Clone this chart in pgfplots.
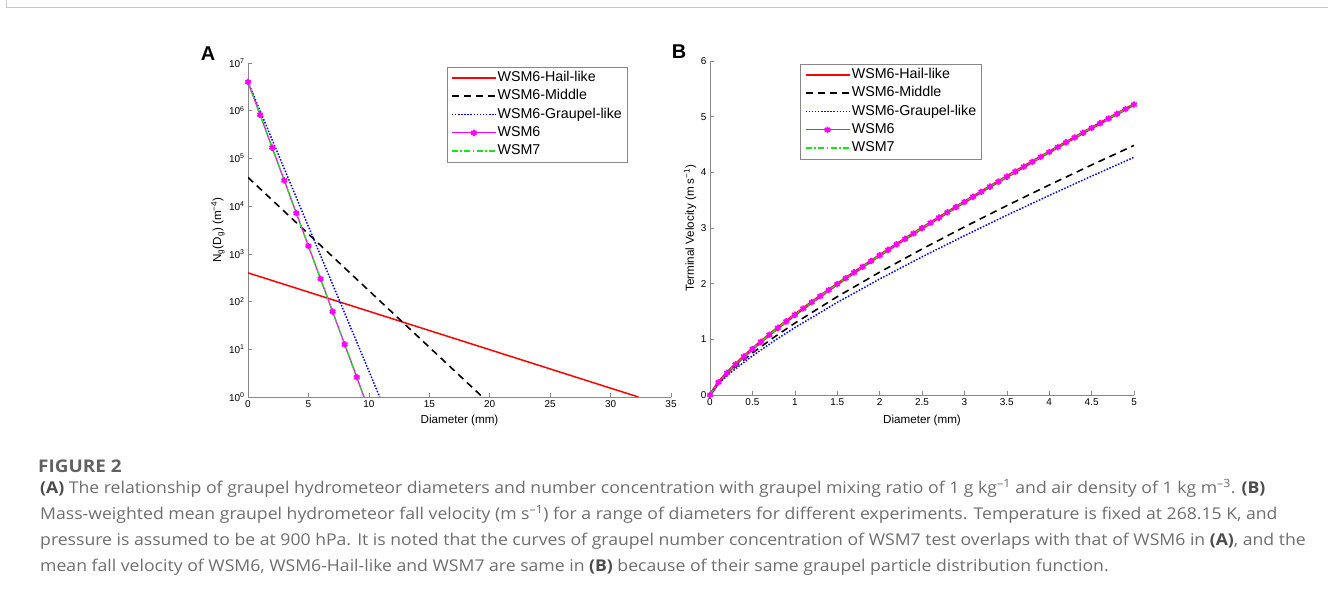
\documentclass[border=0pt]{standalone}
\usepackage{pgfplots}
\usepackage{pgfplotstable}
\pgfplotsset{compat=1.18}
\usepackage{fontspec}
\setmainfont{Liberation Sans}
\newfontfamily\capfont[FakeStretch=1.085]{Open Sans}
\definecolor{axgray}{RGB}{135,135,135}
\definecolor{mygreen}{RGB}{20,230,20}
\definecolor{mymag}{RGB}{255,0,255}
\definecolor{capgray}{RGB}{110,110,110}
\definecolor{legred}{RGB}{254,0,0}
\definecolor{legblack}{RGB}{1,1,1}
\definecolor{legblue}{RGB}{1,0,254}
\definecolor{legmag}{RGB}{254,0,254}
\definecolor{leggreen}{RGB}{20,229,20}
\definecolor{legblueb}{RGB}{2,2,253}
\definecolor{legredb}{RGB}{253,1,1}

% Panel B: WSM6 / Hail-like / WSM7 mean fall velocity (m/s)
\pgfplotstableread{
D v
0 0
0.1 0.2282
0.2 0.3974
0.3 0.5496
0.4 0.6918
0.5 0.8271
0.6 0.9569
0.7 1.0826
0.8 1.2046
0.9 1.3236
1.0 1.4400
1.1 1.5541
1.2 1.6661
1.3 1.7763
1.4 1.8848
1.5 1.9917
1.6 2.0973
1.7 2.2015
1.8 2.3045
1.9 2.4064
2.0 2.5072
2.1 2.6070
2.2 2.7058
2.3 2.8038
2.4 2.9009
2.5 2.9972
2.6 3.0927
2.7 3.1875
2.8 3.2816
2.9 3.3750
3.0 3.4678
3.1 3.5600
3.2 3.6516
3.3 3.7426
3.4 3.8331
3.5 3.9230
3.6 4.0124
3.7 4.1013
3.8 4.1897
3.9 4.2777
4.0 4.3653
4.1 4.4524
4.2 4.5390
4.3 4.6253
4.4 4.7111
4.5 4.7966
4.6 4.8817
4.7 4.9664
4.8 5.0507
4.9 5.1348
5.0 5.2184
}\vwsm

\pgfplotstableread{
D v
0 0
0.1 0.2171
0.2 0.3712
0.3 0.5080
0.5 0.7544
0.75 1.0325
1.0 1.2900
1.5 1.7656
2.0 2.2060
2.5 2.6218
3.0 3.0191
3.5 3.4017
4.0 3.7721
4.5 4.1322
5.0 4.4832
}\vmid

\pgfplotstableread{
D v
0 0
0.1 0.1992
0.2 0.3429
0.3 0.4711
0.5 0.7029
0.75 0.9658
1.0 1.2100
1.5 1.6625
2.0 2.0829
2.5 2.4807
3.0 2.8615
3.5 3.2290
4.0 3.5851
4.5 3.9317
5.0 4.2699
}\vgrau

\pgfplotsset{
 mystyle/.style={
  scale only axis,
  axis lines=left,
  axis line style={-, draw=axgray, line width=0.6bp},
  every tick/.style={draw=axgray, line width=0.6bp},
  major tick length=4bp,
  tick align=inside,
  tick label style={font=\fontsize{10}{12}\selectfont},
  /pgf/number format/assume math mode=true,
  label style={font=\fontsize{11.7}{13}\selectfont},
  legend cell align=left,
  legend style={draw=axgray, fill=white,
    font=\fontsize{14.3}{16}\selectfont,
    anchor=north west,
    nodes={inner sep=1bp, text height=10.5bp, text depth=3bp},
    row sep=2.8bp, inner xsep=4bp, inner ysep=3bp},
 },
}

\begin{document}
\begin{tikzpicture}[x=1bp,y=1bp]
\useasboundingbox (0,0) rectangle (1328,595);
\draw[black!22, line width=1.5bp] (6.5,595) -- (6.5,587.5) -- (1328,587.5);

% Panel A
\begin{axis}[mystyle,
  at={(248bp,198bp)}, anchor=south west,
  width=423bp, height=334bp,
  xmin=0, xmax=35, ymode=log, ymin=1, ymax=1e7,
  xtick={0,5,10,15,20,25,30,35},
  ytick={1,10,100,1000,10000,100000,1000000,10000000},
  yticklabels={10\textsuperscript{0},10\textsuperscript{1},10\textsuperscript{2},10\textsuperscript{3},10\textsuperscript{4},10\textsuperscript{5},10\textsuperscript{6},10\textsuperscript{7}},
  yminorticks=false,
  xlabel={Diameter (mm)},
  ylabel={N\textsubscript{g}(D\textsubscript{g}) (m\textsuperscript{−4})},
  xlabel style={at={(axis description cs:0.5,-0.069)}, anchor=center},
  ylabel style={at={(axis description cs:-0.071,0.5)}, anchor=center},
  legend style={at={(rel axis cs:0.470,0.988)}},
]
\addplot[draw=red, line width=1.5bp,
  legend image code/.code={\draw[draw=legred, line width=1.5bp] (0bp,0bp) -- (44bp,0bp);}]
  coordinates {(0,400) (32.3,1)};
\addlegendentry{WSM6-Hail-like}
\addplot[draw=black, line width=1.6bp, dash pattern=on 7bp off 5bp,
  legend image code/.code={\draw[draw=legblack, line width=1.6bp, dash pattern=on 7bp off 5bp] (0bp,0bp) -- (44bp,0bp);}]
  coordinates {(0,4.0e4) (19.4,1)};
\addlegendentry{WSM6-Middle}
\addplot[draw=blue, line width=1.5bp, dash pattern=on 1.5bp off 1.6bp,
  legend image code/.code={\draw[draw=legblue, line width=1.5bp, dash pattern=on 1.5bp off 1.6bp] (0bp,0bp) -- (44bp,0bp);}]
  coordinates {(0,4.0e6) (10.9,1)};
\addlegendentry{WSM6-Graupel-like}
\addplot[draw=mymag, line width=1.3bp, mark=asterisk, mark size=3.2bp, mark options={solid, draw=mymag, line width=1.9bp},
  legend image code/.code={\draw[draw=legmag, line width=1.3bp] (0bp,0bp) -- (44bp,0bp);
     \draw[draw=legmag, line width=1.9bp] plot[mark=asterisk, mark size=3.2bp] coordinates {(22bp,0bp)};}]
  coordinates {(0,4.0e6) (1,8.21e5) (2,1.687e5) (3,3.464e4) (4,7112) (5,1460) (6,300) (7,61.6) (8,12.65) (9,2.60)};
\addlegendentry{WSM6}
\addplot[draw=mymag, line width=1.3bp, forget plot] coordinates {(9,2.60) (9.6,1.0)};
\addplot[draw=mygreen, line width=1.3bp, dash pattern=on 6bp off 2.5bp on 1.5bp off 2.5bp,
  legend image code/.code={\draw[draw=leggreen, line width=1.3bp, dash pattern=on 6bp off 2.5bp on 1.5bp off 2.5bp] (0bp,0bp) -- (44bp,0bp);}]
  coordinates {(0,4.0e6) (9.6,1.0)};
\addlegendentry{WSM7}
\end{axis}

% Panel B
\begin{axis}[mystyle,
  at={(710bp,200bp)}, anchor=south west,
  width=424bp, height=334bp,
  xmin=0, xmax=5, ymin=0, ymax=6,
  xtick={0,0.5,1,1.5,2,2.5,3,3.5,4,4.5,5},
  xticklabels={0,0.5,1,1.5,2,2.5,3,3.5,4,4.5,5},
  ytick={0,1,2,3,4,5,6},
  xlabel={Diameter (mm)},
  ylabel={Terminal Velocity (m s\textsuperscript{−1})},
  xlabel style={at={(axis description cs:0.5,-0.075)}, anchor=center},
  ylabel style={at={(axis description cs:-0.047,0.5)}, anchor=center},
  legend style={at={(rel axis cs:0.212,0.991)}},
]
\addplot[draw=red, line width=2.8bp,
  legend image code/.code={\draw[draw=legredb, line width=2.8bp] (0bp,0bp) -- (44bp,0bp);}]
  table[x=D,y=v] {\vwsm};
\addlegendentry{WSM6-Hail-like}
\addplot[draw=black, line width=1.6bp, dash pattern=on 7bp off 5bp,
  legend image code/.code={\draw[draw=legblack, line width=1.6bp, dash pattern=on 7bp off 5bp] (0bp,0bp) -- (44bp,0bp);}]
  table[x=D,y=v] {\vmid};
\addlegendentry{WSM6-Middle}
\addplot[draw=blue, line width=1.5bp, dash pattern=on 1.5bp off 1.6bp,
  legend image code/.code={\draw[draw=legblueb, line width=1.5bp, dash pattern=on 1.5bp off 1.6bp] (0bp,0bp) -- (44bp,0bp);}]
  table[x=D,y=v] {\vgrau};
\addlegendentry{WSM6-Graupel-like}
\addplot[draw=mymag, line width=1.3bp, mark=asterisk, mark size=3.2bp, mark options={solid, draw=mymag, line width=1.9bp},
  legend image code/.code={\draw[draw=legmag, line width=1.3bp] (0bp,0bp) -- (44bp,0bp);
     \draw[draw=legmag, line width=1.9bp] plot[mark=asterisk, mark size=3.2bp] coordinates {(22bp,0bp)};}]
  table[x=D,y=v] {\vwsm};
\addlegendentry{WSM6}
\addplot[draw=mygreen, line width=1.3bp, dash pattern=on 6bp off 2.5bp on 1.5bp off 2.5bp,
  legend image code/.code={\draw[draw=leggreen, line width=1.3bp, dash pattern=on 6bp off 2.5bp on 1.5bp off 2.5bp] (0bp,0bp) -- (44bp,0bp);}]
  table[x=D,y=v] {\vwsm};
\addlegendentry{WSM7}
\end{axis}

% panel letters
\node[font=\fontsize{20}{22}\selectfont\bfseries, inner sep=0] at (208,541.3) {A};
\node[font=\fontsize{20}{22}\selectfont\bfseries, inner sep=0] at (679,543.5) {B};

% caption
\node[anchor=base west, inner sep=0, font=\capfont\bfseries\fontsize{17.5}{20}\selectfont, text=black!62] at (38,122) {FIGURE 2};
\begin{scope}[every node/.style={anchor=base west, inner sep=0, font=\capfont\fontsize{16.3}{18}\selectfont, text=capgray}]
\node at (40,101) {\textcolor{black!70}{\textbf{(A)}} The relationship of graupel hydrometeor diameters and number concentration with graupel mixing ratio of 1 g kg\textsuperscript{–1} and air density of 1 kg m\textsuperscript{–3}. \textcolor{black!70}{\textbf{(B)}}};
\node at (40,75.3) {Mass-weighted mean graupel hydrometeor fall velocity (m s\textsuperscript{–1}) for a range of diameters for different experiments. Temperature is fixed at 268.15 K, and};
\node at (40,49.6) {pressure is assumed to be at 900 hPa. It is noted that the curves of graupel number concentration of WSM7 test overlaps with that of WSM6 in \textcolor{black!70}{\textbf{(A)}}, and the};
\node at (40,23.9) {mean fall velocity of WSM6, WSM6-Hail-like and WSM7 are same in \textcolor{black!70}{\textbf{(B)}} because of their same graupel particle distribution function.};
\end{scope}
\end{tikzpicture}
\end{document}
